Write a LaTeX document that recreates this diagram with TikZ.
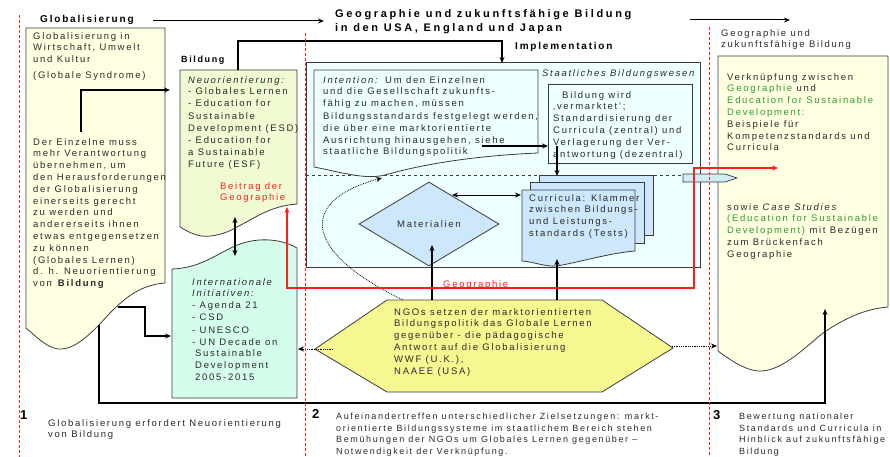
\documentclass[tikz,border=0pt]{standalone}
\usepackage{fontspec}
\setmainfont[LetterSpace=18]{Liberation Sans}
\usetikzlibrary{arrows.meta,shapes.geometric}
\definecolor{txtc}{HTML}{2A2A2A}
\definecolor{lyel}{HTML}{FFFFE2}
\definecolor{bgreen}{HTML}{F0FBD4}
\definecolor{mint}{HTML}{D4FDEB}
\definecolor{lcyan}{HTML}{EEFFFF}
\definecolor{lblue}{HTML}{CDE8FD}
\definecolor{hexy}{HTML}{F7F792}
\definecolor{gtxt}{HTML}{2E9B2E}
\definecolor{redc}{HTML}{FF1E1E}
\definecolor{bord}{HTML}{3C3C3C}
\definecolor{cyarr}{HTML}{CDEEF4}
\begin{document}
\begin{tikzpicture}[x=1pt,y=-1pt,
  box/.style={draw=bord, line width=0.8pt},
  arr/.style={-{Stealth[length=6pt,width=5pt]}, line width=1.2pt, black},
  darr/.style={{Stealth[length=6pt,width=5pt]}-{Stealth[length=6pt,width=5pt]}, line width=1.2pt, black},
  dotarr/.style={-{Stealth[length=6pt,width=5pt]}, densely dotted, line width=0.8pt, black},
  reddash/.style={redc, line width=0.6pt, dash pattern=on 3pt off 2pt},
  txt/.style={anchor=north west, yshift=7pt, inner sep=0pt, align=left, text=txtc,
              font=\fontsize{9.5}{11.8}\selectfont, execute at begin node={\rule{0pt}{7pt}}},
  btxt/.style={txt, font=\fontsize{9}{11.6}\selectfont},
  hd/.style={anchor=base west, inner sep=0pt, align=left, text=black, font=\fontsize{10}{14}\selectfont\bfseries},
  num/.style={anchor=base west, inner sep=0pt, text=black, font=\fontsize{13}{14}\selectfont\bfseries},
]
\useasboundingbox (0,0) rectangle (890,457);

% ---------- shapes ----------
\path[box, fill=lyel] (26,28) -- (165,28) -- (165,283)
  .. controls (140,285) and (125,298) .. (110,313)
  .. controls (90,335) and (75,350) .. (58,349)
  .. controls (45,347) and (35,335) .. (26,328) -- cycle;

\path[box, fill=bgreen] (180,70) -- (297,70) -- (297,204)
  .. controls (270,206) and (255,218) .. (237,227)
  .. controls (222,236) and (205,238) .. (197,235)
  .. controls (190,233) and (185,230) .. (180,227) -- cycle;

\path[box, fill=mint] (172,269)
  .. controls (200,268) and (215,255) .. (235,246)
  .. controls (255,237) and (280,238) .. (297,248)
  -- (297,398) -- (172,398) -- cycle;

\path[box, fill=lcyan] (306,62) rectangle (700,267);
\draw[bord, dashed, line width=0.7pt] (306,175) -- (700,175);

\path[box, fill=lcyan] (314,70) -- (538,70) -- (538,153)
  .. controls (470,156) and (420,165) .. (385,175)
  .. controls (365,180) and (340,172) .. (314,167) -- cycle;

\path[box, fill=lcyan] (548,84) rectangle (692,163);

\path[box, fill=lblue] (539,175) rectangle (653,235);
\path[box, fill=lblue] (530,182) rectangle (644,243);
\path[box, fill=lblue] (522,190) -- (635,190) -- (635,251)
  .. controls (610,253) and (580,262) .. (557,266)
  .. controls (545,267) and (535,262) .. (522,261) -- cycle;

\node[box, fill=lblue, diamond, minimum width=140pt, minimum height=84pt, inner sep=0pt,
      text=txtc, font=\fontsize{9.5}{11.8}\selectfont] (mat) at (429,224) {Materialien};

\path[box, fill=hexy] (315,349) -- (387,300) -- (602,300) -- (673,348) -- (602,392) -- (387,392) -- cycle;

\path[box, fill=lyel] (718,56) -- (888,56) -- (888,307)
  .. controls (865,309) and (845,318) .. (823,333)
  .. controls (800,352) and (780,372) .. (758,371)
  .. controls (745,370) and (730,360) .. (718,351) -- cycle;

\path[draw=bord, line width=0.7pt, fill=cyarr] (683,174) -- (725,174) -- (737,178) -- (725,182) -- (683,182) -- cycle;

% ---------- texts ----------
\node[hd] (tglob) at (40,23) {Globalisierung};
\node[hd, anchor=north west, yshift=8pt, font=\fontsize{11}{14}\selectfont\bfseries\addfontfeature{LetterSpace=24},
      execute at begin node={\rule{0pt}{8pt}}] (tgeo) at (335,17)
  {Geographie und zukunftsfähige Bildung\\in den USA, England und Japan};
\node[txt] (tgeo2) at (721,36) {Geographie und\\zukunftsfähige Bildung};
\node[hd, font=\fontsize{9}{12}\selectfont\bfseries] (tbild) at (181,63) {Bildung};
\node[hd] (timpl) at (515,50) {Implementation};
\node[txt] (tstaat) at (542,76) {\itshape Staatliches Bildungswesen};

\node[txt] (lb1) at (33,39) {Globalisierung in\\Wirtschaft, Umwelt\\und Kultur\\[4pt](Globale Syndrome)};
\node[txt] (lb2) at (33,145) {Der Einzelne muss\\mehr Verantwortung\\übernehmen, um\\den Herausforderungen\\der Globalisierung\\einerseits gerecht\\zu werden und\\andererseits ihnen\\etwas entgegensetzen\\zu können\\(Globales Lernen)\\d. h. Neuorientierung\\von \textbf{Bildung}};

\node[txt] (bb) at (188,83) {\textit{Neuorientierung:}\\- Globales Lernen\\- Education for\\[1.5pt]Sustainable\\Development (ESD)\\- Education for\\a Sustainable\\Future (ESF)};
\node[txt, text=redc] (beitrag) at (220,189) {Beitrag der\\Geographie};

\node[txt] (intl) at (192,285) {\textit{Internationale}\\\textit{Initiativen:}\\- Agenda 21\\- CSD\\[1pt]- UNESCO\\- UN Decade on\\\hspace*{3pt}Sustainable\\\hspace*{3pt}Development\\\hspace*{3pt}2005-2015};

\node[txt] (inten) at (323,83) {\textit{Intention:} Um den Einzelnen\\und die Gesellschaft zukunfts-\\fähig zu machen, müssen\\[1pt]Bildungsstandards festgelegt werden,\\die über eine marktorientierte\\Ausrichtung hinausgehen, siehe\\staatliche Bildungspolitik};

\node[txt] (verm) at (553,98) {\hspace*{9pt}Bildung wird\\‚vermarktet’;\\Standardisierung der\\Curricula (zentral) und\\Verlagerung der Ver-\\antwortung (dezentral)};

\node[txt] (curr) at (529,201) {Curricula: Klammer\\zwischen Bildungs-\\und Leistungs-\\standards (Tests)};

\node[txt] (ngo) at (394,315) {NGOs setzen der marktorientierten\\Bildungspolitik das Globale Lernen\\gegenüber - die pädagogische\\Antwort auf die Globalisierung\\WWF (U.K.),\\NAAEE (USA)};

\node[txt, text=redc] (geo) at (443,287) {Geographie};

\node[txt] (rb1) at (727,80) {Verknüpfung zwischen\\{\color{gtxt}Geographie} und\\{\color{gtxt}Education for Sustainable}\\{\color{gtxt}Development:}\\Beispiele für\\Kompetenzstandards und\\Curricula};
\node[txt] (rb2) at (727,210) {sowie \textit{Case Studies}\\{\color{gtxt}(Education for Sustainable}\\{\color{gtxt}Development)} mit Bezügen\\zum Brückenfach\\Geographie};

\node[num] (n1) at (20,419) {1};
\node[txt] (s1) at (48,426) {Globalisierung erfordert Neuorientierung\\von Bildung};
\node[num] (n2) at (312,418) {2};
\node[btxt] (s2) at (336,420) {Aufeinandertreffen unterschiedlicher Zielsetzungen: markt-\\orientierte Bildungssysteme im staatlichem Bereich stehen\\Bemühungen der NGOs um Globales Lernen gegenüber –\\Notwendigkeit der Verknüpfung.};
\node[num] (n3) at (713,419) {3};
\node[btxt] (s3) at (739,420) {Bewertung nationaler\\Standards und Curricula in\\Hinblick auf zukunftsfähige\\Bildung};

% ---------- connector end points ----------
\coordinate (a1) at (153,21);   \coordinate (a2) at (324,21);
\coordinate (a3) at (690,20);   \coordinate (a4) at (790,20);
\coordinate (l1) at (81,132);   \coordinate (l2) at (170,90);
\coordinate (b1) at (238,70);   \coordinate (b2) at (502,63);
\coordinate (d1) at (235,217);  \coordinate (d2) at (235,256);
\coordinate (l3) at (118,307);  \coordinate (l4) at (171,336);
\coordinate (g1) at (99,325);   \coordinate (g2) at (825,309);
\coordinate (i1) at (482,146);  \coordinate (i2) at (548,146);
\coordinate (v1) at (557,146);  \coordinate (v2) at (557,176);
\coordinate (m1) at (452,195);  \coordinate (m2) at (521,195);
\coordinate (h1) at (432,300);  \coordinate (h2) at (432,245);
\coordinate (h3) at (557,300);  \coordinate (h4) at (557,259);
\coordinate (c1) at (403,300);  \coordinate (c2) at (382,178);
\coordinate (e1) at (333,349);  \coordinate (e2) at (298,349);
\coordinate (f1) at (672,346);  \coordinate (f2) at (717,346);
\coordinate (r1) at (287,207);  \coordinate (r2) at (778,168);

% ---------- connectors ----------
\draw[arr, line width=1pt] (a1) -- (a2);
\draw[arr, line width=1pt] (a3) -- (a4);
\draw[arr] (l1) |- (l2);
\draw[arr] (b1) -- (238,41) -| (b2);
\draw[darr] (d1) -- (d2);
\draw[arr] (l3) -- (145,307) |- (l4);
\draw[arr] (g1) -- (99,403) -| (g2);
\draw[arr] (i1) -- (i2);
\draw[arr] (v1) -- (v2);
\draw[darr, line width=1pt] (m1) -- (m2);
\draw[arr] (h1) -- (h2);
\draw[arr] (h3) -- (h4);
\draw[dotarr] (c1) .. controls (300,250) and (300,200) .. (c2);
\draw[dotarr] (e1) -- (e2);
\draw[dotarr] (f1) -- (f2);
\draw[redc, line width=1.2pt, {Stealth[length=6pt,width=5pt]}-{Stealth[length=6pt,width=5pt]}]
  (r1) -- (287,288) -- (694,288) -- (694,168) -- (r2);

% ---------- red dashed separators ----------
\draw[reddash] (19,15) -- (19,457);
\draw[reddash] (305,33) -- (305,457);
\draw[reddash] (709,27) -- (709,457);
\end{tikzpicture}
\end{document}
